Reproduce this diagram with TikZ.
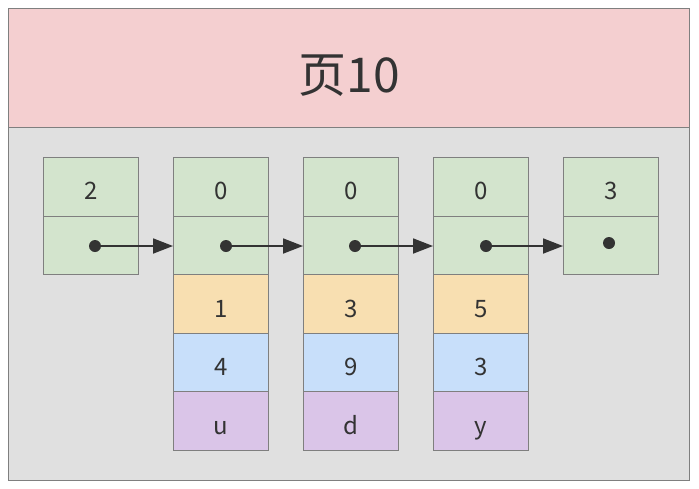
\documentclass[tikz,border=0pt]{standalone}
\usepackage{fontspec}
\setmainfont{Noto Sans CJK SC}
\usetikzlibrary{arrows.meta}
\definecolor{pinkc}{HTML}{F4CFD0}
\definecolor{grayc}{HTML}{E0E0E0}
\definecolor{greenc}{HTML}{D3E4CD}
\definecolor{orangec}{HTML}{F8DFB1}
\definecolor{bluec}{HTML}{C8DFFA}
\definecolor{purplec}{HTML}{DAC5E8}
\definecolor{strokec}{HTML}{7F7F7F}
\definecolor{textc}{HTML}{333333}
\begin{document}
\begin{tikzpicture}[x=1pt,y=-1pt,
  frame/.style={draw=strokec, line width=1pt, anchor=north west, inner sep=0},
  cell/.style={frame, minimum width=95pt, minimum height=58.6pt, font=\fontsize{24}{24}\selectfont, text=textc, text height=28pt, text depth=2pt},
  gcell/.style={cell, fill=greenc},
  ocell/.style={cell, fill=orangec},
  bcell/.style={cell, fill=bluec},
  pcell/.style={cell, fill=purplec},
  dot/.style={circle, fill=textc, inner sep=0, minimum size=12pt},
  ptr/.style={draw=textc, line width=1.8pt, -{Triangle[length=20pt, width=15pt]}}
]
\useasboundingbox (0,0) rectangle (699,488);
\node[frame, fill=grayc, minimum width=681pt, minimum height=472pt] (page) at (8,8) {};
\node[frame, fill=pinkc, minimum width=681pt, minimum height=119pt, font=\fontsize{48}{48}\selectfont, text=textc, text height=52pt, text depth=4pt] (head) at (8,8) {页10};
% column 1
\node[gcell] (k1) at (43,157) {2};
\node[gcell] (p1) at (43,215.6) {};
% column 2
\node[gcell] (k2) at (173,157) {0};
\node[gcell] (p2) at (173,215.6) {};
\node[ocell] (a2) at (173,274.2) {1};
\node[bcell] (b2) at (173,332.8) {4};
\node[pcell] (c2) at (173,391.4) {u};
% column 3
\node[gcell] (k3) at (303,157) {0};
\node[gcell] (p3) at (303,215.6) {};
\node[ocell] (a3) at (303,274.2) {3};
\node[bcell] (b3) at (303,332.8) {9};
\node[pcell] (c3) at (303,391.4) {d};
% column 4
\node[gcell] (k4) at (433,157) {0};
\node[gcell] (p4) at (433,215.6) {};
\node[ocell] (a4) at (433,274.2) {5};
\node[bcell] (b4) at (433,332.8) {3};
\node[pcell] (c4) at (433,391.4) {y};
% column 5
\node[gcell] (k5) at (563,157) {3};
\node[gcell] (p5) at (563,215.6) {};
% dots
\node[dot] (d1) at (95,246) {};
\node[dot] (d2) at (226,246) {};
\node[dot] (d3) at (355,246) {};
\node[dot] (d4) at (486,246) {};
\node[dot] (d5) at (609,243) {};
% pointers
\draw[ptr] (d1.center) -- (d1.center -| p2.west);
\draw[ptr] (d2.center) -- (d2.center -| p3.west);
\draw[ptr] (d3.center) -- (d3.center -| p4.west);
\draw[ptr] (d4.center) -- (d4.center -| p5.west);
\end{tikzpicture}
\end{document}
